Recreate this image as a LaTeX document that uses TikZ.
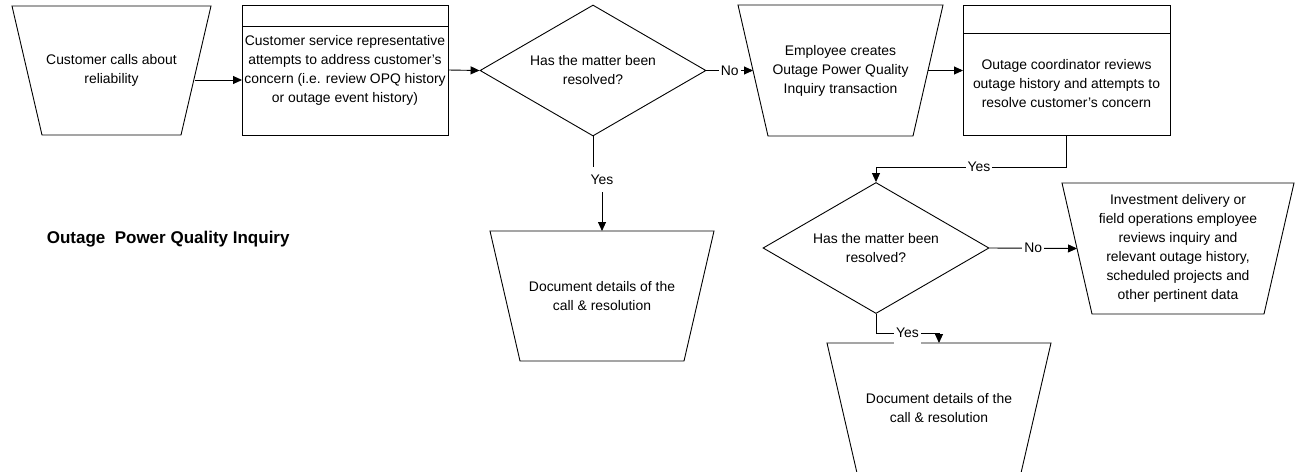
\documentclass[tikz,border=0pt]{standalone}
\usepackage{fontspec}
\setmainfont{Liberation Sans}
\usetikzlibrary{shapes.geometric,arrows.meta}

\tikzset{
  flow/.style={-{Triangle[length=9pt,width=8pt]}},
  manop/.style={rectangle, inner sep=0pt, outer sep=0pt, align=center,
    append after command={\pgfextra{\draw (\tikzlastnode.north west) -- (\tikzlastnode.north east)
      -- ([xshift=-30pt]\tikzlastnode.south east) -- ([xshift=30pt]\tikzlastnode.south west) -- cycle;}}},
  procbox/.style={draw, rectangle, inner sep=0pt, outer sep=0pt, align=center},
  decide/.style={draw, diamond, aspect=1.7, inner sep=0pt, align=center,
    minimum width=226pt, minimum height=131pt},
  lbl/.style={fill=white, inner xsep=2pt, inner ysep=7.5pt},
}

\begin{document}
\begin{tikzpicture}[x=1pt,y=-1pt,line width=0.9pt,font=\fontsize{13.9}{19}\selectfont]
\useasboundingbox (0,0) rectangle (1295,471);
\clip (0,0) rectangle (1295,471);

% top row
\node[manop, minimum width=199pt, minimum height=129pt] (call) at (111.5,70.5) {Customer calls about\\reliability};
\node[procbox, minimum width=206pt, minimum height=130pt] (csr) at (345,70) {Customer service representative\\attempts to address customer's\\concern (i.e. review OPQ history\\or outage event history)};
\draw ([yshift=-21pt]csr.north west) -- ([yshift=-21pt]csr.north east);
\node[decide] (q1) at (593,70.5) {Has the matter been\\resolved?};
\node[manop, minimum width=205pt, minimum height=131pt] (create) at (840.5,70.5) {Employee creates\\Outage Power Quality\\Inquiry transaction};
\node[procbox, minimum width=207pt, minimum height=102pt] (review) at (1066.5,84) {Outage coordinator reviews\\outage history and attempts to\\resolve customer's concern};
\draw (review.north west) rectangle ([yshift=28pt]review.north east);

% lower part
\node[manop, minimum width=224pt, minimum height=130pt] (doc1) at (602,296) {Document details of the\\call \& resolution};
\node[decide] (q2) at (876,248) {Has the matter been\\resolved?};
\node[manop, minimum width=232pt, minimum height=131pt] (invest) at (1178,248.5) {Investment delivery or\\field operations employee\\reviews inquiry and\\relevant outage history,\\scheduled projects and\\other pertinent data};
\node[manop, minimum width=224pt, minimum height=130pt] (doc2) at (939,408) {Document details of the\\call \& resolution};
\node[font=\bfseries\fontsize{17}{20}\selectfont, anchor=west] (title) at (43,239) {Outage~~Power Quality Inquiry};

% connectors
\coordinate (callout) at ([xshift=-16pt]call.east);
\coordinate (csrin) at ([yshift=-10pt]csr.west);
\draw[flow] (callout |- csrin) -- (csrin);
\draw[flow] (csr.east) -- (q1.west);
\draw[flow] (q1.east) -- ([xshift=15pt]create.west) node[midway,lbl] {No};
\draw[flow] ([xshift=-15pt]create.east) -- (create.east -| review.west);
\draw[flow] (q1.south) -- ++(0,43) -| (doc1.north) node[pos=0.5,lbl] {Yes};
\draw[flow] (review.south) -- ++(0,32) -| (q2.north) node[pos=0.23,lbl] {Yes};
\draw[flow] (q2.east) -- ([xshift=15pt]invest.west) node[midway,lbl] {No};
\draw[flow] (q2.south) -- ++(0,19) -| (doc2.north) node[pos=0.25,lbl] {Yes};
\end{tikzpicture}
\end{document}
